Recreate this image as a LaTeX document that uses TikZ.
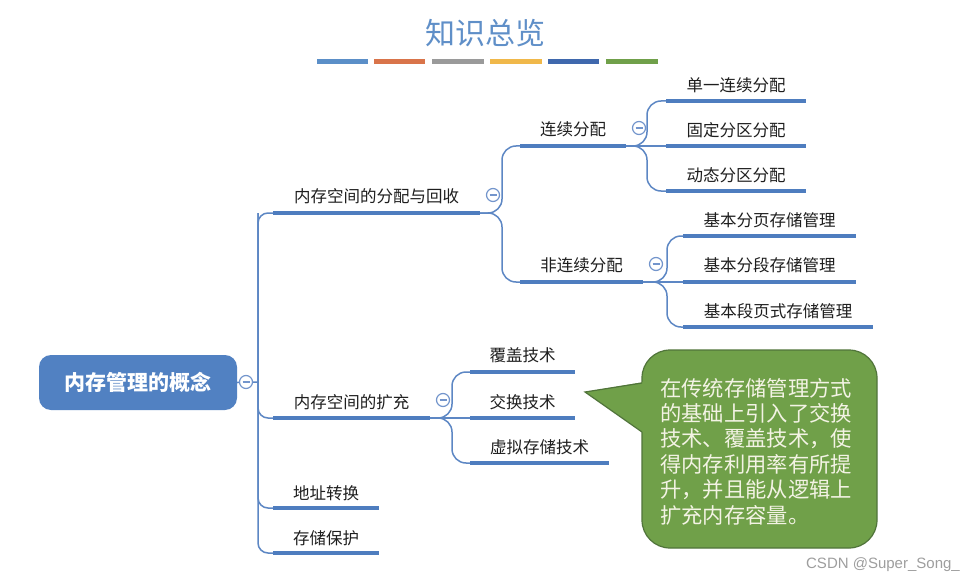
\documentclass[tikz,border=0pt]{standalone}
\usepackage{fontspec}
\setmainfont{Noto Sans CJK SC}
\newfontfamily\wmfont{Liberation Sans}
\definecolor{titleblue}{HTML}{5F8FC8}
\definecolor{cA}{HTML}{5B8FC8}
\definecolor{cB}{HTML}{D9744A}
\definecolor{cC}{HTML}{9A9A9A}
\definecolor{cD}{HTML}{F0B84A}
\definecolor{cE}{HTML}{3F68AD}
\definecolor{cF}{HTML}{70A04A}
\definecolor{barblue}{HTML}{4E7DBF}
\definecolor{lineblue}{HTML}{5D87C4}
\definecolor{circblue}{HTML}{7395CC}
\definecolor{rootblue}{HTML}{5181C2}
\definecolor{calgreen}{HTML}{70A049}
\definecolor{calborder}{HTML}{50743A}
\definecolor{calltext}{HTML}{F3F3E4}
\definecolor{lbltext}{HTML}{1E1E1E}
\newcommand\mmbar[6]{%
  \coordinate (#1s) at (#2,#4);
  \coordinate (#1e) at (#3,#4);
  \draw[barline] (#1s) -- (#1e);
  \node[lbl] (#1) at ({(#2+#3)/2},#5) {#6};
}
\begin{document}
\begin{tikzpicture}[x=1pt,y=-1pt,
  lbl/.style={font=\fontsize{16.5}{18}\selectfont, text=lbltext, inner sep=0pt},
  barline/.style={draw=barblue, line width=4pt},
  conn/.style={draw=lineblue, line width=1.5pt, rounded corners=14pt},
  toggle/.style={circle, draw=circblue, fill=white, line width=1.2pt, minimum size=13pt, inner sep=0pt,
    path picture={\draw[circblue, line width=1.2pt] ([xshift=-3.5pt]path picture bounding box.center) -- ([xshift=3.5pt]path picture bounding box.center);}},
  titlebar/.style={line width=4.5pt}
]
\useasboundingbox (0,0) rectangle (977,583);
\fill[white] (0,0) rectangle (977,583);

% title
\node[font=\fontsize{30}{32}\selectfont, text=titleblue, inner sep=0pt] (title) at (485,33) {知识总览};
\coordinate (t1a) at (317,61.5); \coordinate (t1b) at (368,61.5);
\coordinate (t2a) at (374,61.5); \coordinate (t2b) at (425,61.5);
\coordinate (t3a) at (432,61.5); \coordinate (t3b) at (484,61.5);
\coordinate (t4a) at (490,61.5); \coordinate (t4b) at (542,61.5);
\coordinate (t5a) at (548,61.5); \coordinate (t5b) at (599,61.5);
\coordinate (t6a) at (606,61.5); \coordinate (t6b) at (658,61.5);
\draw[titlebar, cA] (t1a) -- (t1b);
\draw[titlebar, cB] (t2a) -- (t2b);
\draw[titlebar, cC] (t3a) -- (t3b);
\draw[titlebar, cD] (t4a) -- (t4b);
\draw[titlebar, cE] (t5a) -- (t5b);
\draw[titlebar, cF] (t6a) -- (t6b);

% root
\node[rectangle, rounded corners=12pt, fill=rootblue, minimum width=198pt, minimum height=55pt,
  text=white, font=\fontsize{21}{23}\selectfont\bfseries] (root) at (138,382.5) {内存管理的概念};

% level 1
\mmbar{A}{273}{480}{213}{196}{内存空间的分配与回收}
\mmbar{B}{273}{430}{418}{402}{内存空间的扩充}
\mmbar{C}{273}{379}{508}{493}{地址转换}
\mmbar{D}{273}{379}{553}{538}{存储保护}

% level 2
\mmbar{Aa}{520}{626}{146}{129}{连续分配}
\mmbar{Ab}{520}{643}{282}{265}{非连续分配}
\mmbar{Ba}{470}{575}{372}{355}{覆盖技术}
\mmbar{Bb}{470}{575}{418}{402}{交换技术}
\mmbar{Bc}{470}{609}{463}{447}{虚拟存储技术}

% level 3
\mmbar{Aaa}{666}{806}{101}{85}{单一连续分配}
\mmbar{Aab}{666}{806}{146}{130}{固定分区分配}
\mmbar{Aac}{666}{806}{191}{175}{动态分区分配}
\mmbar{Aba}{683}{856}{236}{220}{基本分页存储管理}
\mmbar{Abb}{683}{856}{282}{265}{基本分段存储管理}
\mmbar{Abc}{683}{873}{327}{311}{基本段页式存储管理}

% spine
\coordinate (sp) at (258,382);
\coordinate (spB) at (258,553);
\coordinate (spT) at (258,213);
\draw[conn, rounded corners=10pt] (root.east) -- (sp);
\draw[conn, rounded corners=10pt] (sp) |- (As);
\draw[conn, rounded corners=10pt] (sp) |- (Ds);
\draw[conn, rounded corners=10pt] (spT) |- (Bs);
\draw[conn, rounded corners=10pt] (spT) |- (Cs);

% A branches
\coordinate (Aj) at (502,213);
\draw[conn] (Ae) -- (Aj) |- (Aas);
\draw[conn] (Ae) -- (Aj) |- (Abs);
\coordinate (Aaj) at (647,146);
\draw[conn] (Aae) -- (Aaj) |- (Aaas);
\draw[conn] (Aae) -- (Aabs);
\draw[conn] (Aae) -- (Aaj) |- (Aacs);
\coordinate (Abj) at (667,282);
\draw[conn] (Abe) -- (Abj) |- (Abas);
\draw[conn] (Abe) -- (Abbs);
\draw[conn] (Abe) -- (Abj) |- (Abcs);

% B branches
\coordinate (Bj) at (452,418);
\draw[conn] (Be) -- (Bj) |- (Bas);
\draw[conn] (Be) -- (Bbs);
\draw[conn] (Be) -- (Bj) |- (Bcs);

% toggles
\node[toggle] (rt) at (246,382) {};
\node[toggle] (At) at (493,195) {};
\node[toggle] (Aat) at (639,128) {};
\node[toggle] (Abt) at (656,264) {};
\node[toggle] (Bt) at (443,400) {};

% callout
\node[rectangle, rounded corners=28pt, fill=calgreen, draw=calborder, line width=1.2pt,
  minimum width=235pt, minimum height=198pt] (callout) at (759.5,449) {};
\coordinate (tip) at (585,392);
\coordinate (pu) at (642,383);
\coordinate (pl) at (642,432);
\fill[calgreen] (tip) -- ([xshift=2pt,yshift=1pt]pu) -- ([xshift=2pt,yshift=-1pt]pl) -- cycle;
\draw[calborder, line width=1.2pt] (pu) -- (tip) -- (pl);
\node[anchor=west, inner sep=0pt, align=left, text=calltext,
  font=\fontsize{21.3}{25.4}\selectfont] (calltxt) at (660,451.5)
  {在传统存储管理方式\\的基础上引入了交换\\技术、覆盖技术，使\\得内存利用率有所提\\升，并且能从逻辑上\\扩充内存容量。};

% watermark
\node[anchor=east, inner sep=0pt, text=black!38, font=\wmfont\fontsize{15}{17}\selectfont] (wm) at (960,565) {CSDN @Super\_Song\_};
\end{tikzpicture}
\end{document}
